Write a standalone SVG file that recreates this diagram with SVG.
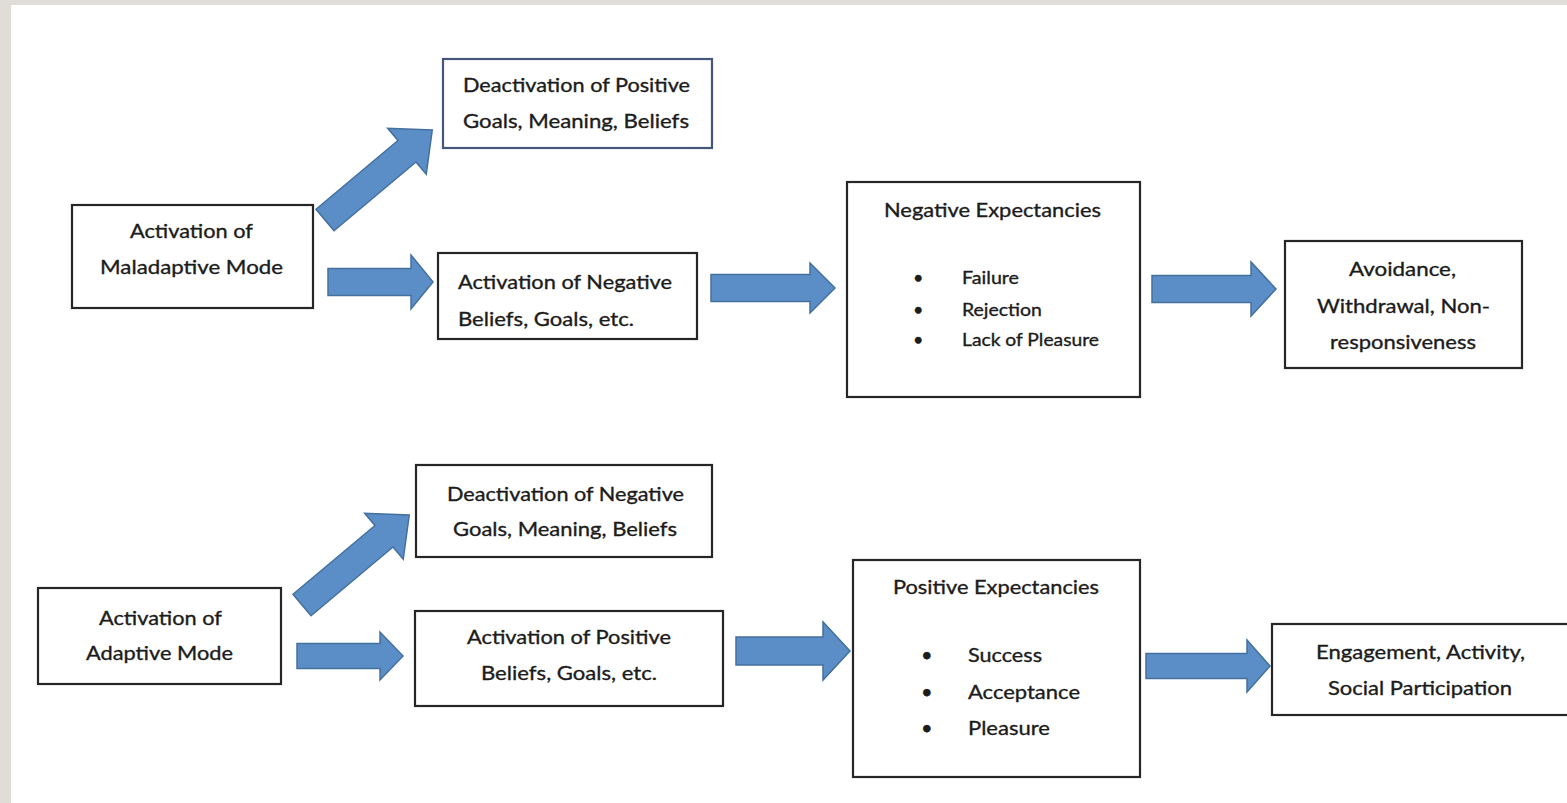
<svg xmlns="http://www.w3.org/2000/svg" width="1567" height="803" viewBox="0 0 1567 803">
<style>
.box{fill:#fff;stroke:#262626;stroke-width:2.2}
.boxb{fill:#fff;stroke:#45567a;stroke-width:2.2}
.arr{fill:#5b8ec6;stroke:#44709e;stroke-width:1.5;stroke-linejoin:miter}
text{font-family:Lato,"Open Sans","Liberation Sans",sans-serif;font-size:20px;fill:#1c1c1c;stroke:#1c1c1c;stroke-width:0.35}
.sm{font-size:18px}
</style>
<rect x="0" y="0" width="1567" height="803" fill="#e0ddd8"/>
<rect x="11" y="5" width="1556" height="798" fill="#ffffff"/>
<g id="connectors">
<path class="arr" transform="translate(325,220) rotate(-40)" d="M0,-14 L107,-14 L107,-30 L140,0 L107,30 L107,14 L0,14 Z"/>
<path class="arr" d="M328,268.5 L411,268.5 L411,255 L433,282 L411,309 L411,295.5 L328,295.5 Z"/>
<path class="arr" d="M711,274.5 L810,274.5 L810,263 L835,288 L810,313 L810,301.5 L711,301.5 Z"/>
<path class="arr" d="M1152,275.5 L1251,275.5 L1251,262 L1276,289 L1251,316 L1251,302.5 L1152,302.5 Z"/>
<path class="arr" transform="translate(302,605) rotate(-40)" d="M0,-14 L107,-14 L107,-30 L140,0 L107,30 L107,14 L0,14 Z"/>
<path class="arr" d="M297,643.5 L380,643.5 L380,632 L403,656 L380,680 L380,668.5 L297,668.5 Z"/>
<path class="arr" d="M736,637 L823,637 L823,622 L850,651 L823,680 L823,665 L736,665 Z"/>
<path class="arr" d="M1146,653.5 L1247,653.5 L1247,640 L1270,666 L1247,692 L1247,678.5 L1146,678.5 Z"/>
</g>
<g id="maladaptive">
<rect class="box" x="72" y="205" width="241" height="103"/>
<text x="130" y="238" textLength="123" lengthAdjust="spacingAndGlyphs">Activation of</text>
<text x="100" y="274" textLength="183" lengthAdjust="spacingAndGlyphs">Maladaptive Mode</text>
</g>
<g id="deact-positive">
<rect class="boxb" x="443" y="59" width="269" height="89"/>
<text x="463" y="92" textLength="227" lengthAdjust="spacingAndGlyphs">Deactivation of Positive</text>
<text x="463" y="128" textLength="226" lengthAdjust="spacingAndGlyphs">Goals, Meaning, Beliefs</text>
</g>
<g id="act-negative">
<rect class="box" x="438" y="253" width="259" height="86"/>
<text x="458" y="289" textLength="214" lengthAdjust="spacingAndGlyphs">Activation of Negative</text>
<text x="458" y="326" textLength="176" lengthAdjust="spacingAndGlyphs">Beliefs, Goals, etc.</text>
</g>
<g id="neg-expectancies">
<rect class="box" x="847" y="182" width="293" height="215"/>
<text x="884" y="217" textLength="217" lengthAdjust="spacingAndGlyphs">Negative Expectancies</text>
<text class="sm" x="913" y="284">•</text>
<text class="sm" x="962" y="284" textLength="57" lengthAdjust="spacingAndGlyphs">Failure</text>
<text class="sm" x="913" y="316">•</text>
<text class="sm" x="962" y="316" textLength="80" lengthAdjust="spacingAndGlyphs">Rejection</text>
<text class="sm" x="913" y="346">•</text>
<text class="sm" x="962" y="346" textLength="137" lengthAdjust="spacingAndGlyphs">Lack of Pleasure</text>
</g>
<g id="avoidance">
<rect class="box" x="1285" y="241" width="237" height="127"/>
<text x="1349" y="276" textLength="107" lengthAdjust="spacingAndGlyphs">Avoidance,</text>
<text x="1317" y="313" textLength="173" lengthAdjust="spacingAndGlyphs">Withdrawal, Non-</text>
<text x="1330" y="349" textLength="146" lengthAdjust="spacingAndGlyphs">responsiveness</text>
</g>
<g id="adaptive">
<rect class="box" x="38" y="588" width="243" height="96"/>
<text x="99" y="625" textLength="123" lengthAdjust="spacingAndGlyphs">Activation of</text>
<text x="86" y="660" textLength="147" lengthAdjust="spacingAndGlyphs">Adaptive Mode</text>
</g>
<g id="deact-negative">
<rect class="box" x="416" y="465" width="296" height="92"/>
<text x="447" y="501" textLength="237" lengthAdjust="spacingAndGlyphs">Deactivation of Negative</text>
<text x="453" y="536" textLength="224" lengthAdjust="spacingAndGlyphs">Goals, Meaning, Beliefs</text>
</g>
<g id="act-positive">
<rect class="box" x="415" y="611" width="308" height="95"/>
<text x="467" y="644" textLength="204" lengthAdjust="spacingAndGlyphs">Activation of Positive</text>
<text x="481" y="680" textLength="176" lengthAdjust="spacingAndGlyphs">Beliefs, Goals, etc.</text>
</g>
<g id="pos-expectancies">
<rect class="box" x="853" y="560" width="287" height="217"/>
<text x="893" y="594" textLength="206" lengthAdjust="spacingAndGlyphs">Positive Expectancies</text>
<text x="921" y="662">•</text>
<text x="968" y="662" textLength="74" lengthAdjust="spacingAndGlyphs">Success</text>
<text x="921" y="699">•</text>
<text x="968" y="699" textLength="112" lengthAdjust="spacingAndGlyphs">Acceptance</text>
<text x="921" y="735">•</text>
<text x="968" y="735" textLength="82" lengthAdjust="spacingAndGlyphs">Pleasure</text>
</g>
<g id="engagement">
<rect class="box" x="1272" y="624" width="300" height="91"/>
<text x="1316" y="659" textLength="209" lengthAdjust="spacingAndGlyphs">Engagement, Activity,</text>
<text x="1328" y="695" textLength="184" lengthAdjust="spacingAndGlyphs">Social Participation</text>
</g>
</svg>
